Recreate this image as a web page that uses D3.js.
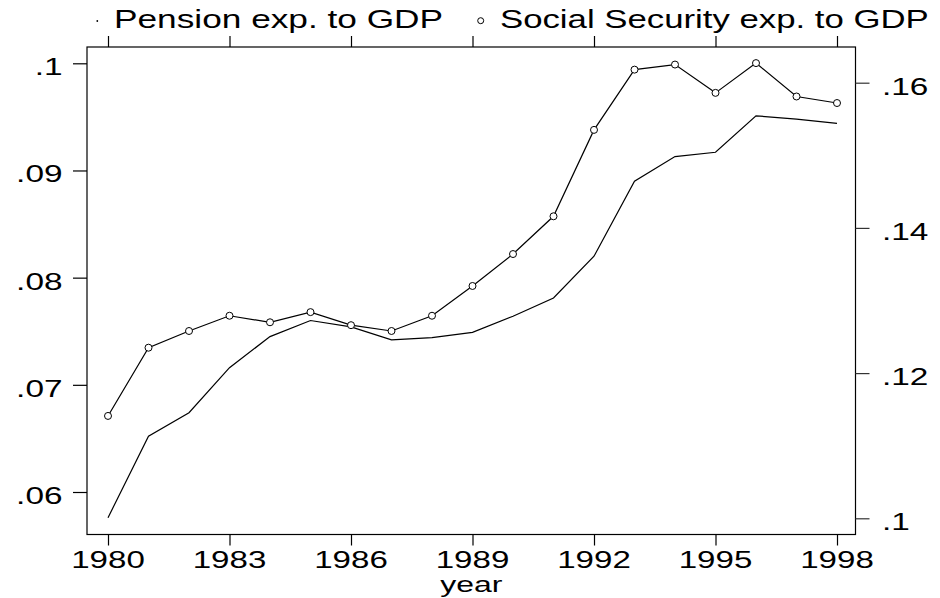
<!DOCTYPE html>
<html>
<head>
<meta charset="utf-8">
<script src="https://cdn.jsdelivr.net/npm/d3@7/dist/d3.min.js"></script>
<style>
  html, body { margin: 0; padding: 0; background: #fff; }
  svg { display: block; }
  text { font-family: "Liberation Sans", Arial, sans-serif; fill: #000; }
</style>
</head>
<body>
<svg id="chart" width="940" height="598"></svg>
<script>
// Years on the x axis
const years = [1980, 1981, 1982, 1983, 1984, 1985, 1986, 1987, 1988, 1989,
               1990, 1991, 1992, 1993, 1994, 1995, 1996, 1997, 1998];
// Pension expenditure as a share of GDP (left axis)
const pension = [0.0576, 0.0652, 0.0674, 0.0716, 0.0745, 0.0760, 0.0754, 0.0742, 0.0744, 0.0749,
                 0.0764, 0.0781, 0.0820, 0.0890, 0.0913, 0.0917, 0.0951, 0.0948, 0.0944];
// Social security expenditure as a share of GDP (right axis)
const social = [0.1141, 0.1235, 0.1258, 0.1279, 0.1270, 0.1284, 0.1266, 0.1258, 0.1279, 0.1320,
                0.1364, 0.1416, 0.1535, 0.1618, 0.1625, 0.1586, 0.1627, 0.1581, 0.1572];
// Tick values and labels
const xTicks = [1980, 1983, 1986, 1989, 1992, 1995, 1998];
const leftTicks = [0.06, 0.07, 0.08, 0.09, 0.1];
const leftLabels = [".06", ".07", ".08", ".09", ".1"];
const rightTicks = [0.1, 0.12, 0.14, 0.16];
const rightLabels = [".1", ".12", ".14", ".16"];
const legendLabels = ["Pension exp. to GDP", "Social Security exp. to GDP"];
const xTitle = "year";

const svg = d3.select("#chart");

// Plot frame
const box = { left: 87, right: 855.5, top: 47, bottom: 534.5 };

const x = d3.scaleLinear().domain([1980, 1998]).range([108, 837]);
const yL = d3.scaleLinear().domain([0.06, 0.1]).range([492, 63.3]);
const yR = d3.scaleLinear().domain([0.1, 0.16]).range([518.3, 82.7]);

// Horizontally widened text
function wideText(g, tx, ty, str, size, sx, anchor) {
  g.append("g")
    .attr("transform", `translate(${tx},${ty}) scale(${sx},1)`)
    .append("text")
    .attr("x", 0).attr("y", 0)
    .attr("font-size", size)
    .attr("text-anchor", anchor)
    .text(str);
}

svg.append("rect")
  .attr("x", box.left).attr("y", box.top)
  .attr("width", box.right - box.left).attr("height", box.bottom - box.top)
  .attr("fill", "none").attr("stroke", "#000").attr("stroke-width", 1.2);

// Bottom axis
const bottomAxis = d3.axisBottom(x).tickValues(xTicks).tickSize(11).tickFormat("");
const gb = svg.append("g").attr("transform", `translate(0,${box.bottom})`).call(bottomAxis);
gb.select(".domain").remove();
gb.selectAll(".tick line").attr("stroke", "#000").attr("stroke-width", 1.2);

// Top axis (ticks only)
const topAxis = d3.axisTop(x).tickValues(xTicks).tickSize(11).tickFormat("");
const gt = svg.append("g").attr("transform", `translate(0,${box.top})`).call(topAxis);
gt.select(".domain").remove();
gt.selectAll(".tick line").attr("stroke", "#000").attr("stroke-width", 1.2);

// Left axis
const leftAxis = d3.axisLeft(yL).tickValues(leftTicks).tickSize(14).tickFormat("");
const gl = svg.append("g").attr("transform", `translate(${box.left},0)`).call(leftAxis);
gl.select(".domain").remove();
gl.selectAll(".tick line").attr("stroke", "#000").attr("stroke-width", 1.2);

// Right axis
const rightAxis = d3.axisRight(yR).tickValues(rightTicks).tickSize(14).tickFormat("");
const gr = svg.append("g").attr("transform", `translate(${box.right},0)`).call(rightAxis);
gr.select(".domain").remove();
gr.selectAll(".tick line").attr("stroke", "#333").attr("stroke-width", 1.2);

// Tick labels
const labels = svg.append("g");
xTicks.forEach(t => wideText(labels, x(t), 567.5, String(t), 23, 1.44, "middle"));
leftTicks.forEach((t, i) => wideText(labels, 62.5, yL(t) + 12, leftLabels[i], 23.5, 1.42, "end"));
rightTicks.forEach((t, i) => wideText(labels, 882, yR(t) + 12, rightLabels[i], 23.5, 1.42, "start"));
wideText(labels, (box.left + box.right) / 2, 592, xTitle, 22.5, 1.42, "middle");

// Series lines
const pensionData = years.map((yr, i) => ({ yr, v: pension[i] }));
const socialData = years.map((yr, i) => ({ yr, v: social[i] }));

svg.append("path")
  .datum(pensionData)
  .attr("fill", "none").attr("stroke", "#000").attr("stroke-width", 1.2)
  .attr("d", d3.line().x(d => x(d.yr)).y(d => yL(d.v)));

svg.append("path")
  .datum(socialData)
  .attr("fill", "none").attr("stroke", "#000").attr("stroke-width", 1.2)
  .attr("d", d3.line().x(d => x(d.yr)).y(d => yR(d.v)));

svg.append("g").selectAll("circle")
  .data(socialData).enter().append("circle")
  .attr("cx", d => x(d.yr)).attr("cy", d => yR(d.v)).attr("r", 3.5)
  .attr("fill", "#fff").attr("stroke", "#000").attr("stroke-width", 1);

// Legend
const lg = svg.append("g");
lg.append("circle").attr("cx", 97.3).attr("cy", 21).attr("r", 0.9).attr("fill", "#000");
wideText(lg, 114, 28.3, legendLabels[0], 25, 1.41, "start");
lg.append("circle").attr("cx", 480.7).attr("cy", 20.7).attr("r", 3)
  .attr("fill", "#fff").attr("stroke", "#000").attr("stroke-width", 1);
wideText(lg, 500, 28.3, legendLabels[1], 25, 1.39, "start");
</script>
</body>
</html>
